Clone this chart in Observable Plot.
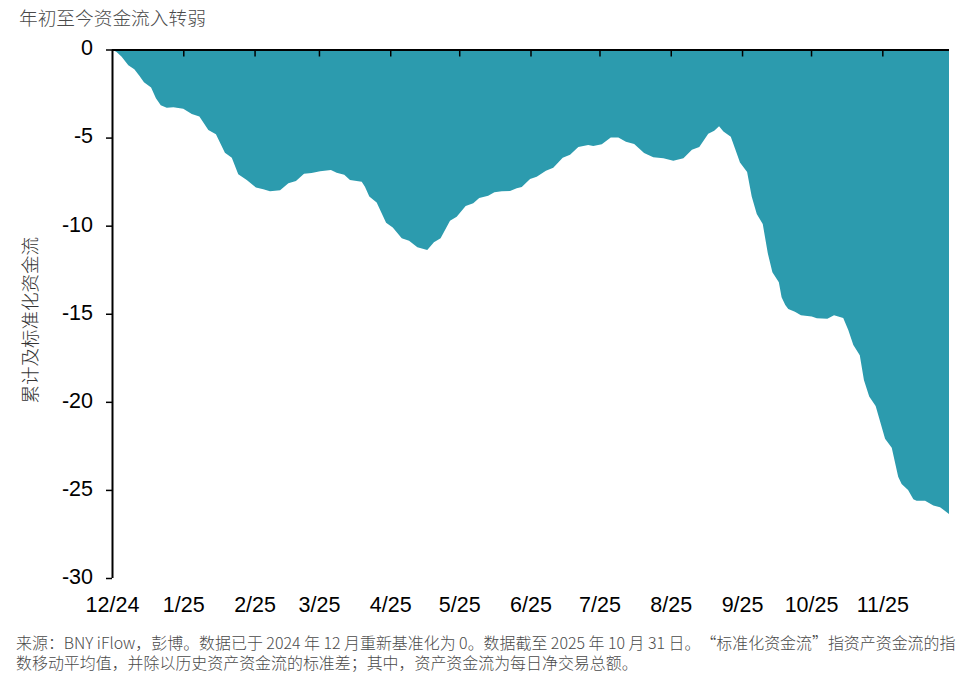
<!DOCTYPE html>
<html lang="zh">
<head>
<meta charset="utf-8">
<script src="https://cdn.jsdelivr.net/npm/d3@7"></script>
<script src="https://cdn.jsdelivr.net/npm/@observablehq/plot@0.6"></script>
<style>
html,body{margin:0;padding:0;background:#fff;width:979px;height:689px;overflow:hidden}
#title{height:36px;padding-left:19px;font:300 18.7px/34px "Noto Sans CJK SC",sans-serif;color:#4a4a4a;white-space:nowrap}
#caption{padding-left:16px;padding-top:7px;font:300 15.95px/20px "Noto Sans CJK SC",sans-serif;color:#4a4a4a;white-space:nowrap;text-spacing-trim:space-all}
svg{display:block}
</style>
</head>
<body>
<div id="title"></div>
<div id="chart"></div>
<div id="caption"></div>
<script>
const titleText = "年初至今资金流入转弱";
const yLabel = "累计及标准化资金流";
const captionLines = [
  "来源：BNY iFlow，彭博。数据已于 2024 年 12 月重新基准化为 0。数据截至 2025 年 10 月 31 日。“标准化资金流”指资产资金流的指",
  "数移动平均值，并除以历史资产资金流的标准差；其中，资产资金流为每日净交易总额。"
];
const startDate = "2024-12-01";
const endDate = "2025-11-30";
const tickDates = ["2024-12-01","2025-01-01","2025-02-01","2025-03-01","2025-04-01","2025-05-01","2025-06-01","2025-07-01","2025-08-01","2025-09-01","2025-10-01","2025-11-01"];
const tickLabels = ["12/24","1/25","2/25","3/25","4/25","5/25","6/25","7/25","8/25","9/25","10/25","11/25"];
const yTicks = [0,-5,-10,-15,-20,-25,-30];
// days after 1 Dec 2024
const dayOffsets = [0,2,4.2,7.1,9.7,11.9,13.9,17,19.1,21.2,23.8,26.7,31,34.7,38,41.9,45.2,49.1,52.1,54.9,58.6,62.6,65.8,68.7,73.1,76.7,80,83.5,86.8,90.5,95.2,97.7,101,103.5,108.6,110,111.9,115.1,119.2,122.1,126,129.2,132.8,137.1,140,142.9,147,149.9,153.8,157.1,159.7,163.6,166.3,169.5,173.1,176,178.2,181.8,184.7,188.7,191.9,196,199.2,202.8,207.1,209.3,213,216.9,220.2,223.5,227.1,231.4,235.4,239.8,244.1,248.5,252.2,255.4,259.3,261.9,264,265.9,269.1,270.9,273.1,276.2,278.2,280.4,283,285.2,287.2,290,291.2,292.8,294.1,297,299.6,304.3,306.5,311.1,314,318,320.2,322.4,325.2,327,329.3,332.1,336.2,339.1,341.9,343.4,346.2,348.5,349.9,353.6,357.2,360.1,364];
const flows = [0,-0.14,-0.41,-0.9,-1.12,-1.49,-1.86,-2.15,-2.77,-3.17,-3.3,-3.28,-3.36,-3.66,-3.81,-4.57,-4.81,-5.86,-6.14,-7.08,-7.41,-7.84,-7.93,-8.05,-7.99,-7.59,-7.46,-7.05,-7.01,-6.91,-6.84,-6.99,-7.11,-7.41,-7.5,-7.79,-8.35,-8.69,-9.83,-10.11,-10.72,-10.85,-11.23,-11.38,-10.94,-10.72,-9.72,-9.49,-8.88,-8.73,-8.43,-8.3,-8.11,-8.05,-8.03,-7.88,-7.8,-7.35,-7.22,-6.88,-6.71,-6.14,-5.97,-5.53,-5.42,-5.48,-5.38,-5,-5,-5.23,-5.36,-5.87,-6.12,-6.17,-6.31,-6.17,-5.69,-5.53,-4.78,-4.61,-4.36,-4.66,-4.95,-5.61,-6.42,-6.95,-8.35,-9.34,-9.9,-11.57,-12.64,-13.21,-14.06,-14.5,-14.73,-14.88,-15.09,-15.16,-15.26,-15.28,-15.09,-15.24,-15.92,-16.77,-17.36,-18.76,-19.7,-20.23,-22.1,-22.6,-24.25,-24.66,-25,-25.53,-25.61,-25.62,-25.89,-25.98,-26.36];

const start = new Date(startDate);
const rows = dayOffsets.map((d,i) => ({date: new Date(+start + d*864e5), value: flows[i]}));
const ticks = tickDates.map(d => new Date(d));
const labelOf = new Map(ticks.map((t,i) => [+t, tickLabels[i]]));
const tickFont = '"Liberation Sans",Arial,sans-serif';

document.getElementById("title").textContent = titleText;
document.getElementById("caption").innerHTML = captionLines.map(l => `<div>${l}</div>`).join("");

const chart = Plot.plot({
  width: 979, height: 589,
  marginTop: 13.5, marginBottom: 47, marginLeft: 112, marginRight: 30,
  style: {background: "#fff", overflow: "visible"},
  x: {type: "utc", domain: [start, new Date(endDate)]},
  y: {domain: [-30, 0]},
  marks: [
    Plot.areaY(rows, {x: "date", y1: 0, y2: "value", fill: "#2c9bae"}),
    Plot.ruleY([0], {stroke: "#000", strokeWidth: 2}),
    Plot.ruleX([start], {y1: 0, y2: -30, stroke: "#000", strokeWidth: 2}),
    Plot.axisY({ticks: yTicks, tickSize: 6, tickFormat: () => "", label: null,
      stroke: "#000", strokeWidth: 1.5, strokeOpacity: 1}),
    Plot.axisY({ticks: yTicks, tickSize: 0, tickPadding: 19.5, dy: -1.5, tickFormat: d => String(d), label: null,
      fontSize: 21.5, fontFamily: tickFont, fill: "#000"}),
    Plot.axisX({anchor: "top", ticks: ticks.slice(1), tickSize: -6, tickPadding: 0, tickFormat: () => "", label: null,
      stroke: "#000", strokeWidth: 1.5, strokeOpacity: 1}),
    Plot.axisX({anchor: "bottom", ticks, tickSize: 0, tickPadding: 18, tickFormat: d => labelOf.get(+d), label: null,
      fontSize: 21.5, fontFamily: tickFont, fill: "#000"}),
    Plot.text([yLabel], {frameAnchor: "left", textAnchor: "middle", rotate: -90, dx: -81, dy: 6, fontSize: 18.5, fill: "#333",
      fontFamily: '"Noto Sans CJK SC",sans-serif', fontWeight: 300})
  ]
});
document.getElementById("chart").appendChild(chart);
</script>
</body>
</html>
